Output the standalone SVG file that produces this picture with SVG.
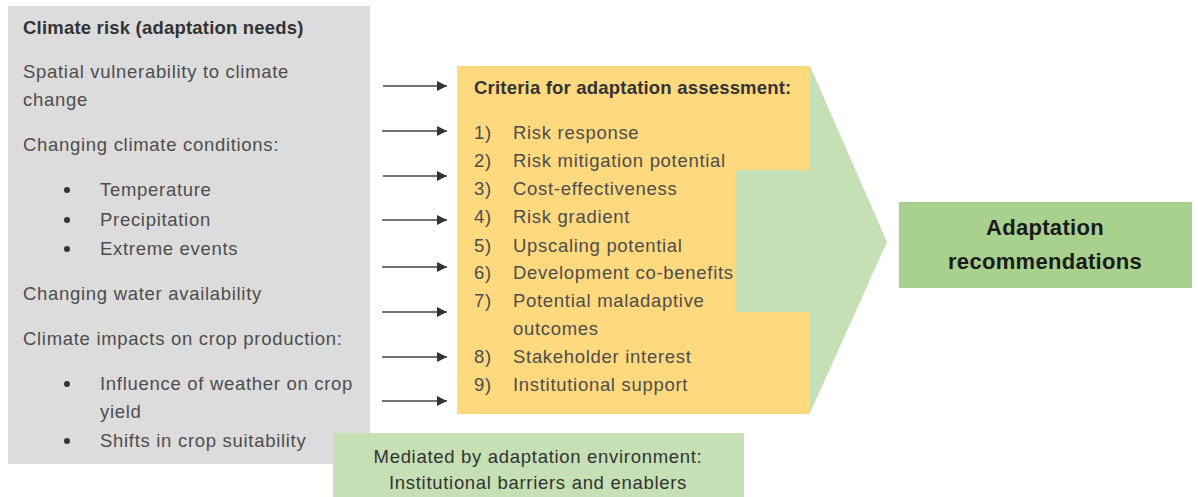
<svg xmlns="http://www.w3.org/2000/svg" width="1198" height="497" viewBox="0 0 1198 497">
<style>
.t{font-family:"Liberation Sans",Arial,sans-serif;font-size:18.5px;letter-spacing:0.7px;fill:#4d4d4d}
.b{font-weight:bold;fill:#333;letter-spacing:0.2px}
.c{text-anchor:middle}
.arr{stroke:#444;stroke-width:1.3;fill:none}
</style>
<defs>
<marker id="ah" viewBox="0 0 10 10" refX="10" refY="5" markerWidth="10" markerHeight="10" markerUnits="userSpaceOnUse" orient="auto">
<path d="M0,0 L10,5 L0,10 z" fill="#333"/>
</marker>
</defs>
<rect width="1198" height="497" fill="#fff"/>
<g id="climate-risk">
<rect x="8" y="6" width="362" height="458" fill="#dcdcdc"/>
<text class="t b" x="23" y="34">Climate risk (adaptation needs)</text>
<text class="t" x="23" y="78">Spatial vulnerability to climate</text>
<text class="t" x="23" y="106">change</text>
<text class="t" x="23" y="151">Changing climate conditions:</text>
<circle cx="67" cy="190" r="3" fill="#333"/>
<text class="t" x="100" y="196">Temperature</text>
<circle cx="67" cy="220" r="3" fill="#333"/>
<text class="t" x="100" y="226">Precipitation</text>
<circle cx="67" cy="249" r="3" fill="#333"/>
<text class="t" x="100" y="255">Extreme events</text>
<text class="t" x="23" y="300">Changing water availability</text>
<text class="t" x="23" y="345">Climate impacts on crop production:</text>
<circle cx="67" cy="384" r="3" fill="#333"/>
<text class="t" x="100" y="390">Influence of weather on crop</text>
<text class="t" x="100" y="418">yield</text>
<circle cx="67" cy="441" r="3" fill="#333"/>
<text class="t" x="100" y="447">Shifts in crop suitability</text>
</g>
<g id="green-arrow">
<path d="M810,66 L887,242 L810,413 Z" fill="#c5e0b4"/>
</g>
<g id="criteria">
<path d="M457,66 H810 V170 H735 V312 H810 V414 H457 Z" fill="#ffd97d"/>
<rect x="735" y="170" width="75" height="142" fill="#c5e0b4"/>
<text class="t b" x="474" y="94">Criteria for adaptation assessment:</text>
<text class="t" x="474" y="139">1)</text><text class="t" x="513" y="139">Risk response</text>
<text class="t" x="474" y="167">2)</text><text class="t" x="513" y="167">Risk mitigation potential</text>
<text class="t" x="474" y="195">3)</text><text class="t" x="513" y="195">Cost-effectiveness</text>
<text class="t" x="474" y="223">4)</text><text class="t" x="513" y="223">Risk gradient</text>
<text class="t" x="474" y="252">5)</text><text class="t" x="513" y="252">Upscaling potential</text>
<text class="t" x="474" y="279">6)</text><text class="t" x="513" y="279">Development co-benefits</text>
<text class="t" x="474" y="307">7)</text><text class="t" x="513" y="307">Potential maladaptive</text>
<text class="t" x="513" y="335">outcomes</text>
<text class="t" x="474" y="363">8)</text><text class="t" x="513" y="363">Stakeholder interest</text>
<text class="t" x="474" y="391">9)</text><text class="t" x="513" y="391">Institutional support</text>
</g>
<g id="recommendations">
<rect x="899" y="202" width="293" height="86" fill="#a9d18e"/>
<text class="t b c" x="1045" y="235" style="font-size:22px;letter-spacing:0.3px;fill:#1a1a1a">Adaptation</text>
<text class="t b c" x="1045" y="269" style="font-size:22px;letter-spacing:0.3px;fill:#1a1a1a">recommendations</text>
</g>
<g id="mediated">
<rect x="333" y="433" width="411" height="64" fill="#c5e0b4"/>
<text class="t c" x="538" y="463" style="fill:#333">Mediated by adaptation environment:</text>
<text class="t c" x="538" y="489" style="fill:#333">Institutional barriers and enablers</text>
</g>
<g id="connectors">
<line class="arr" x1="383" y1="86" x2="447" y2="86" marker-end="url(#ah)"/>
<line class="arr" x1="382" y1="131" x2="447" y2="131" marker-end="url(#ah)"/>
<line class="arr" x1="383" y1="176" x2="447" y2="176" marker-end="url(#ah)"/>
<line class="arr" x1="382" y1="220" x2="447" y2="220" marker-end="url(#ah)"/>
<line class="arr" x1="382" y1="267" x2="447" y2="267" marker-end="url(#ah)"/>
<line class="arr" x1="382" y1="312" x2="447" y2="312" marker-end="url(#ah)"/>
<line class="arr" x1="382" y1="357" x2="447" y2="357" marker-end="url(#ah)"/>
<line class="arr" x1="382" y1="401" x2="447" y2="401" marker-end="url(#ah)"/>
</g>
</svg>
